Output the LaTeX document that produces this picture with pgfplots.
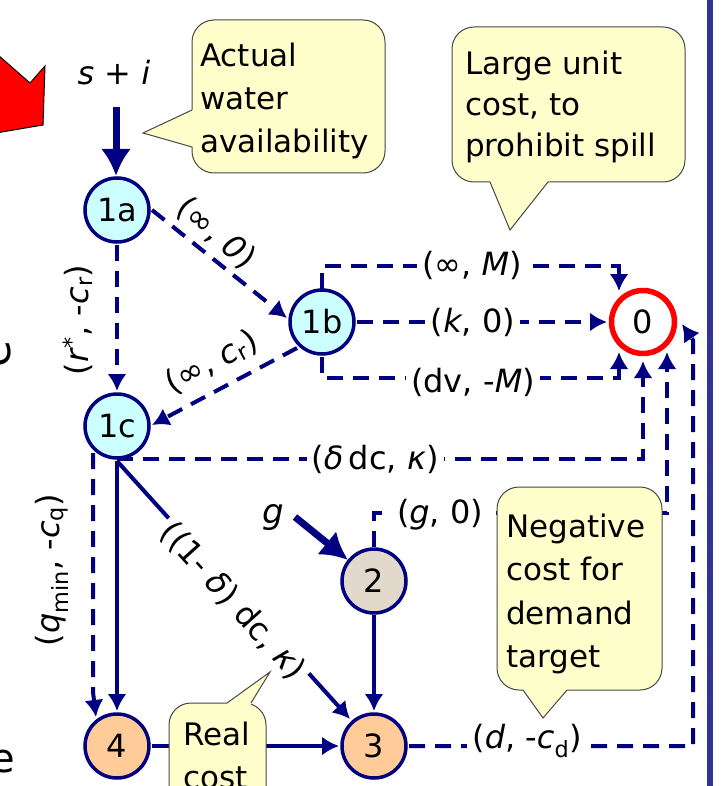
\documentclass[border=0pt]{standalone}
\usepackage{fontspec}
\setmainfont{DejaVu Sans}
\usepackage{pgfplots}
\pgfplotsset{compat=1.18}
\usetikzlibrary{arrows.meta}
\definecolor{navy}{RGB}{0,0,128}
\definecolor{cyanfill}{RGB}{204,255,255}
\definecolor{tanfill}{RGB}{226,216,204}
\definecolor{peach}{RGB}{255,204,153}
\definecolor{callout}{RGB}{255,255,204}
\definecolor{calloutline}{RGB}{70,70,70}
\definecolor{barblue}{RGB}{51,51,153}
\tikzset{
  edge/.style={navy, line width=4pt, mark=none, -{Latex[length=17pt,width=19pt]}},
  dedge/.style={edge, dash pattern=on 16pt off 10pt},
  thick arrow/.style={navy, line width=7pt, mark=none, -{Latex[length=27pt,width=30pt]}},
  lab/.style={font=\fontsize{32}{38}\selectfont, inner sep=2pt},
  wlab/.style={lab, fill=white, inner xsep=5pt},
  ctext/.style={font=\fontsize{31}{37}\selectfont, anchor=base west, inner sep=0pt},
  box/.style={draw=calloutline, line width=1pt, fill=callout, rounded corners=22pt, mark=none},
  ptrfill/.style={fill=callout, draw=none, mark=none},
  ptrline/.style={draw=calloutline, line width=1pt, mark=none},
  num/.style={font=\fontsize{32}{38}\selectfont, inner sep=0pt},
}
\begin{document}
\begin{tikzpicture}
\begin{axis}[
  width=721pt, height=786pt, scale only axis,
  xmin=0, xmax=721, ymin=0, ymax=786, y dir=reverse,
  enlargelimits=false, hide axis, clip=true, clip marker paths=true,
]
% right bar
\addplot[fill=barblue, draw=none, mark=none] coordinates {(707,-5)(713,-5)(713,791)(707,791)};
% red arrow (cut off)
\addplot[fill=red, draw=black, line width=1pt, mark=none] coordinates {(-10,48)(30,83)(45,66)(43,125)(-10,134)};

% ---- edges ----
\addplot[thick arrow] coordinates {(116,107)(116,176)};
\addplot[dedge] coordinates {(117,245)(117,391)};
\addplot[dedge] coordinates {(152,210)(287,318)};
\addplot[dedge] coordinates {(297,348)(152,425)};
\addplot[dedge] coordinates {(322,289)(322,266)(619,266)(619,291)};
\addplot[dedge] coordinates {(357,322)(607,322)};
\addplot[dedge] coordinates {(322,357)(322,378)(619,378)(619,352)};
\addplot[dedge] coordinates {(117,459)(643,459)(643,361)};
\addplot[dedge] coordinates {(93,453)(93,692)(96,717)};
\addplot[edge] coordinates {(117,461)(117,711)};
\addplot[edge] coordinates {(117,461)(350,719)};
\addplot[thick arrow] coordinates {(295,517)(348,560)};
\addplot[dedge] coordinates {(374,547)(374,513)(667,513)(667,352)};
\addplot[edge] coordinates {(374,615)(374,711)};
\addplot[edge] coordinates {(152,746)(339,746)};
\addplot[dedge] coordinates {(409,746)(693,746)(693,340)(682,324)};

% ---- circles ----
\addplot[only marks, mark=*, mark size=32pt, mark options={draw=navy, fill=cyanfill, line width=3.5pt}] coordinates {(117,210)(322,322)(117,426)};
\addplot[only marks, mark=*, mark size=32pt, mark options={draw=navy, fill=tanfill, line width=3.5pt}] coordinates {(374,581)};
\addplot[only marks, mark=*, mark size=32pt, mark options={draw=navy, fill=peach, line width=3.5pt}] coordinates {(374,746)(117,746)};
\addplot[only marks, mark=*, mark size=31.5pt, mark options={draw=red, fill=white, line width=5.5pt}] coordinates {(643,322)};

% ---- edge labels ----
\node[lab] at (axis cs:114,73) {\textit{s} + \textit{i}};
\node[lab, font=\fontsize{34}{40}\selectfont] at (axis cs:273,518) {\textit{g}};
\node[lab, rotate=90] at (axis cs:78,320) {(\textit{r}\textsuperscript{*}, -\textit{c}\textsubscript{r})};
\node[lab, rotate=90] at (axis cs:52,570) {(\textit{q}\textsubscript{min}, -\textit{c}\textsubscript{q})};
\node[lab, rotate=-40] at (axis cs:216,233) {(∞, \textit{0})};
\node[lab, rotate=28] at (axis cs:212,362) {(∞, \textit{c}\textsubscript{r})};
\node[wlab] at (axis cs:472,265) {(∞,~\textit{M})};
\node[wlab] at (axis cs:473,322) {(\textit{k}, 0)};
\node[wlab] at (axis cs:473,382) {(dv, -\textit{M})};
\node[wlab] at (axis cs:375,459) {(\textit{δ}\,dc, \textit{κ})};
\node[wlab, rotate=-48] at (axis cs:233,601) {((1- \textit{δ}) dc, \textit{κ})};
\node[wlab, inner xsep=8pt] at (axis cs:440,515) {(\textit{g}, 0)};
\node[wlab] at (axis cs:527,741) {(\textit{d}, -\textit{c}\textsubscript{d})};

% ---- callouts ----
\addplot[box] coordinates {(288,20)(385,20)(385,173)(192,173)(192,20)(288,20)};
\addplot[ptrfill] coordinates {(196,110)(192,110)(143,133)(192,147)(196,147)};
\addplot[ptrline] coordinates {(192,110)(143,133)(192,147)};
\node[ctext] at (axis cs:200,67) {Actual};
\node[ctext] at (axis cs:200,110) {water};
\node[ctext] at (axis cs:200,153) {availability};

\addplot[box] coordinates {(568,27)(685,27)(685,182)(452,182)(452,27)(568,27)};
\addplot[ptrfill] coordinates {(490,178)(490,182)(510,230)(548,182)(548,178)};
\addplot[ptrline] coordinates {(490,182)(510,230)(548,182)};
\node[ctext] at (axis cs:465,75) {Large unit};
\node[ctext] at (axis cs:465,116) {cost, to};
\node[ctext] at (axis cs:465,157) {prohibit spill};

\addplot[box] coordinates {(580,487)(662,487)(662,690)(497,690)(497,487)(580,487)};
\addplot[ptrfill] coordinates {(523,686)(523,690)(543,718)(567,690)(567,686)};
\addplot[ptrline] coordinates {(523,690)(543,718)(567,690)};
\node[ctext] at (axis cs:506,537) {Negative};
\node[ctext] at (axis cs:506,580) {cost for};
\node[ctext] at (axis cs:506,624) {demand};
\node[ctext] at (axis cs:506,667) {target};

\addplot[box] coordinates {(218,703)(266,703)(266,830)(169,830)(169,703)(218,703)};
\addplot[ptrfill] coordinates {(227,707)(227,703)(270,672)(251,703)(251,707)};
\addplot[ptrline] coordinates {(227,703)(270,672)(251,703)};
\node[ctext] at (axis cs:183,745) {Real};
\node[ctext] at (axis cs:183,788) {cost};

% ---- node numbers ----
\node[num] at (axis cs:117,210) {1a};
\node[num] at (axis cs:322,322) {1b};
\node[num] at (axis cs:117,426) {1c};
\node[num] at (axis cs:643,322) {0};
\node[num] at (axis cs:374,581) {2};
\node[num] at (axis cs:374,746) {3};
\node[num] at (axis cs:117,746) {4};

% cut-off text at the left edge
\node[font=\fontsize{40}{48}\selectfont, anchor=base east, inner sep=0pt] at (axis cs:15,772) {e};
\node[font=\fontsize{44}{52}\selectfont, rotate=90, anchor=base, inner sep=0pt] at (axis cs:10,354) {e};

\coordinate (BL) at (rel axis cs:0,0);
\coordinate (TR) at (rel axis cs:1,1);
\end{axis}
\pgfresetboundingbox
\useasboundingbox (BL) rectangle (TR);
\end{tikzpicture}
\end{document}
